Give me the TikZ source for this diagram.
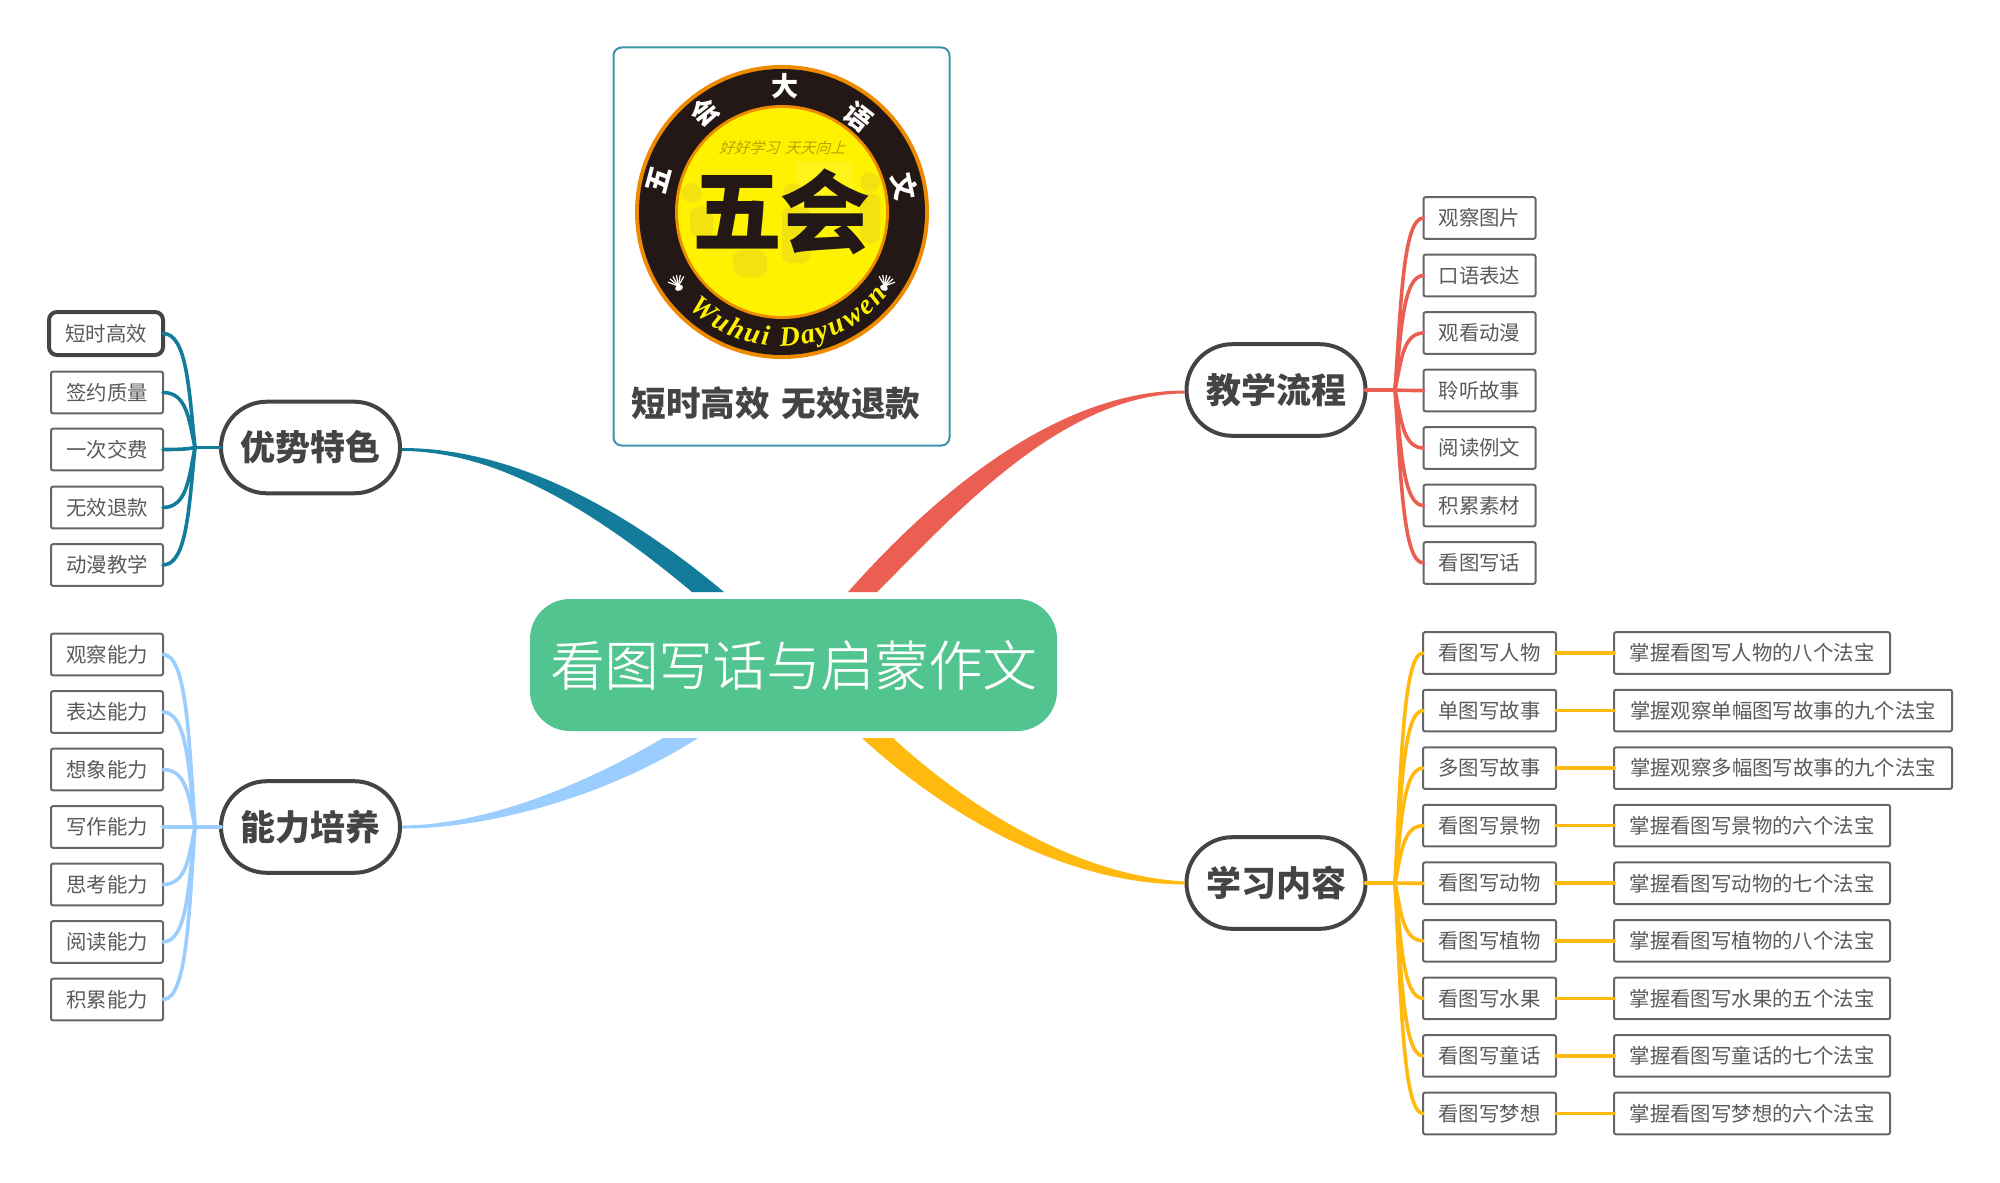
\documentclass[tikz,border=0pt]{standalone}
\usepackage{fontspec}
\setmainfont{Noto Sans CJK SC}
\newfontfamily\thinfont[FakeBold=0.5]{Noto Sans CJK SC Light}
\newfontfamily\slantfont[FakeSlant=0.3]{Noto Sans CJK SC}
\newfontfamily\wufont{Liberation Serif}
\usetikzlibrary{calc,decorations.text}
\definecolor{cteal}{HTML}{127C9A}
\definecolor{cred}{HTML}{EA5F51}
\definecolor{cblue}{HTML}{9BCDFF}
\definecolor{corange}{HTML}{FFB90F}
\definecolor{cgreen}{HTML}{52C490}
\definecolor{cink}{HTML}{444444}
\definecolor{cleaf}{HTML}{5A5A5A}
\definecolor{cedge}{HTML}{666666}
\definecolor{cframe}{HTML}{3A95AB}
\definecolor{logoblack}{HTML}{231815}
\definecolor{logoyellow}{HTML}{FFF200}
\definecolor{logorim}{HTML}{EE8A00}
\definecolor{logofig}{HTML}{F3E20F}
\definecolor{logomotto}{HTML}{B9A300}
\tikzset{
  leafbox/.style={draw=cedge,line width=1pt,rounded corners=1pt,fill=white,text=cleaf,
    minimum height=20.8pt,inner sep=0pt,outer sep=0pt,font=\fontsize{10.2}{12}\selectfont},
  pill/.style={draw=cink,line width=2pt,rounded corners=22.9pt,fill=white,text=cink,
    minimum width=89.5pt,minimum height=45.8pt,inner sep=0pt,outer sep=0pt,
    font=\fontsize{17.5}{20}\selectfont\bfseries},
  twigline/.style={line width=1.8pt,line cap=round},
  ringchar/.style={text=white,inner sep=0pt,font=\fontsize{13.5}{15}\selectfont\bfseries},
  bigchar/.style={inner sep=0pt,font=\fontsize{45}{50}\selectfont\bfseries},
}
\newcommand{\twig}[4]{\draw[twigline,#1] (#2) .. controls ($(#2)!0.5!(#2|-#3)+(#4*6,0)$) and ($(#2|-#3)+(#4*8,0)$) .. (#3);}
\begin{document}
\begin{tikzpicture}[x=0.5pt,y=-0.5pt]
\useasboundingbox (0,0) rectangle (2000,1182);
% central node and topic pills
\node[fill=cgreen,rounded corners=20pt,minimum width=263.5pt,minimum height=66pt,inner sep=0pt,outer sep=0pt,text=white,font=\fontsize{27}{30}\selectfont\thinfont] (root) at (793.5,665) {看图写话与启蒙作文};
\node[pill] (pa) at (310.5,447.5) {优势特色};
\node[pill] (pb) at (310.5,827) {能力培养};
\node[pill] (pc) at (1276,390) {教学流程};
\node[pill] (pd) at (1276,883) {学习内容};
% main tapered branches
\coordinate (ta) at (724,592);\coordinate (tb) at (692,592);
\coordinate (ra) at (848,592);\coordinate (rb) at (877,592);
\coordinate (ba) at (663,738);\coordinate (bb) at (698,738);
\coordinate (oa) at (893,738);\coordinate (ob) at (862,738);
\fill[cteal] ($(pa.east)+(2,0.5)$) .. controls (510,448) and (620,505) .. (ta) -- (tb) .. controls (600,515) and (500,451) .. ($(pa.east)+(2,3.5)$) -- cycle;
\fill[cred] (ra) .. controls (925,505) and (1050,391) .. ($(pc.west)+(-2,0.5)$) -- ($(pc.west)+(-2,3.5)$) .. controls (1060,394) and (950,520) .. (rb) -- cycle;
\fill[cblue] ($(pb.east)+(2,-1.5)$) .. controls (480,825) and (575,790) .. (ba) -- (bb) .. controls (610,795) and (490,829) .. ($(pb.east)+(2,1.5)$) -- cycle;
\fill[corange] (oa) .. controls (960,800) and (1070,875) .. ($(pd.west)+(-2,-1.5)$) -- ($(pd.west)+(-2,1.5)$) .. controls (1060,884) and (940,810) .. (ob) -- cycle;
% leaves left
\node[draw=cink,line width=2pt,rounded corners=4pt,fill=white,text=cleaf,minimum width=57pt,minimum height=21.5pt,inner sep=0pt,outer sep=0pt,font=\fontsize{10.2}{12}\selectfont] (a1) at (106,333.5) {短时高效};
\node[leafbox,minimum width=56pt] (a2) at (107,392.5) {签约质量};
\node[leafbox,minimum width=56pt] (a3) at (107,449.5) {一次交费};
\node[leafbox,minimum width=56pt] (a4) at (107,507.5) {无效退款};
\node[leafbox,minimum width=56pt] (a5) at (107,565) {动漫教学};
\foreach \t [count=\i] in {观察能力,表达能力,想象能力,写作能力,思考能力,阅读能力,积累能力}{
  \pgfmathsetmacro\yy{654.5+57.5*(\i-1)}
  \node[leafbox,minimum width=56pt] (b\i) at (107,\yy) {\t};
}
\foreach \t [count=\i] in {观察图片,口语表达,观看动漫,聆听故事,阅读例文,积累素材,看图写话}{
  \pgfmathsetmacro\yy{218+57.5*(\i-1)}
  \node[leafbox,minimum width=56pt] (c\i) at (1479.5,\yy) {\t};
}
\foreach \t/\u/\w [count=\i] in {看图写人物/掌握看图写人物的八个法宝/138,单图写故事/掌握观察单幅图写故事的九个法宝/169,多图写故事/掌握观察多幅图写故事的九个法宝/169,看图写景物/掌握看图写景物的六个法宝/138,看图写动物/掌握看图写动物的七个法宝/138,看图写植物/掌握看图写植物的八个法宝/138,看图写水果/掌握看图写水果的五个法宝/138,看图写童话/掌握看图写童话的七个法宝/138,看图写梦想/掌握看图写梦想的六个法宝/138}{
  \pgfmathsetmacro\yy{653+57.56*(\i-1)}
  \node[leafbox,minimum width=66.5pt] (d\i) at (1489.5,\yy) {\t};
  \node[leafbox,minimum width=\w pt,anchor=west] (e\i) at (1614,\yy) {\u};
}
% hubs
\coordinate (ha) at (195,447.5);
\coordinate (hb) at (195,827);
\coordinate (hc) at (1395,390);
\coordinate (hd) at (1395,883);
% twigs
\draw[twigline,cteal] (pa.west) -- (ha);
\foreach \i in {1,...,5}{\twig{cteal}{ha}{a\i.east}{-1}}
\draw[twigline,cblue] (pb.west) -- (hb);
\foreach \i in {1,...,7}{\twig{cblue}{hb}{b\i.east}{-1}}
\draw[twigline,cred] (pc.east) -- (hc);
\foreach \i in {1,...,7}{\twig{cred}{hc}{c\i.west}{1}}
\draw[twigline,corange] (pd.east) -- (hd);
\foreach \i in {1,...,9}{
  \twig{corange}{hd}{d\i.west}{1}
  \draw[twigline,corange] (d\i.east) -- (e\i.west);
}
% logo frame and caption
\node[draw=cframe,line width=1pt,rounded corners=4pt,minimum width=168pt,minimum height=199pt,inner sep=0pt,outer sep=0pt] (frame) at (781.5,246.5) {};
\node[text=cink,inner sep=0pt,font=\fontsize{17.3}{20}\selectfont\bfseries] (caption) at (776,403) {短时高效\hspace{6pt}无效退款};
% logo emblem
\begin{scope}[shift={(782,212)},x=0.5pt,y=0.5pt]
  \fill[logorim] (0,0) circle (147);
  \fill[logoblack] (0,0) circle (143);
  \fill[logorim] (0,0) circle (107);
  \fill[logoyellow] (0,0) circle (104);
  % faint classroom picture
  \fill[yellow!90!white] (13,50) rectangle (71,-5);
  \fill[logofig] (-90,19) circle (10) (11,19) circle (10) (88,30) circle (10);
  \fill[logofig,rounded corners=4pt] (-92,5) rectangle (-69,-25);
  \fill[logofig,rounded corners=4pt] (0,5) rectangle (28,-51);
  \fill[logofig,rounded corners=4pt] (78,19) rectangle (98,-31);
  \fill[logofig,rounded corners=5pt] (-49,-38) rectangle (-15,-65);
  \node[text=logomotto,inner sep=0pt,font=\fontsize{7.5}{8}\selectfont\slantfont] (motto) at (0,64) {好好学习\hspace{3pt}天天向上};
  \node[bigchar,text=logoblack] (wu) at (-45,0) {五};
  \node[bigchar,text=logoblack] (hui) at (43,0) {会};
  \node[ringchar,rotate=75] (r1) at (-123,32) {五};
  \node[ringchar,rotate=38] (r2) at (-77,100) {会};
  \node[ringchar] (r3) at (3,126) {大};
  \node[ringchar,rotate=-38] (r4) at (76,95) {语};
  \node[ringchar,rotate=-78] (r5) at (123,25) {文};
  \path[decorate,decoration={text along path,text={|\wufont\bfseries\itshape\fontsize{14}{16}\selectfont\color{logoyellow}|Wuhui Dayuwen},text align={fit to path}}] (226:134) arc[start angle=226,end angle=322,radius=134];
  \foreach \cx/\ang in {-104/20,103/-20}{
    \begin{scope}[shift={(\cx,-73)},rotate=\ang]
      \fill[white] (0,-3) ellipse (4 and 3);
      \foreach \a in {40,60,...,140}{\draw[white,line width=0.6pt] (0,-1) -- +(\a:11);}
    \end{scope}
  }
\end{scope}
\end{tikzpicture}
\end{document}
